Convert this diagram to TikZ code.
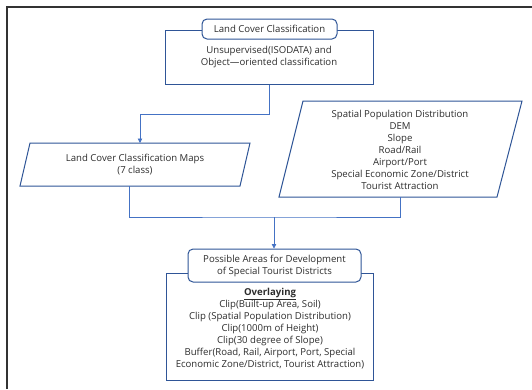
\documentclass[tikz,border=0pt]{standalone}
\usepackage{fontspec}
\setmainfont{Open Sans}
\usetikzlibrary{arrows.meta}
\definecolor{boxblue}{RGB}{47,85,151}
\definecolor{linkblue}{RGB}{68,114,196}
\definecolor{txt}{RGB}{45,45,45}
\tikzset{
  frame/.style={draw=black!80, line width=1.8pt},
  outerbox/.style={draw=boxblue, line width=1pt, fill=white, inner sep=0pt},
  titlebox/.style={draw=boxblue, line width=1pt, fill=white, rounded corners=5pt, inner sep=0pt},
  para/.style={draw=boxblue, line width=1pt},
  conn/.style={draw=linkblue, line width=0.8pt},
  arr/.style={conn, -{Triangle[width=4.5pt,length=4.5pt]}},
  label/.style={align=center, text=txt, font=\fontsize{9.6}{12}\selectfont, inner sep=0pt},
}
\begin{document}
\begin{tikzpicture}[x=1pt,y=-1pt]
\useasboundingbox (0,0) rectangle (532,389);
\fill[white] (0,0) rectangle (532,389);
% frame
\draw[frame] (7,389) -- (7,7) -- (532,7);

% top box
\node[outerbox, minimum width=208pt, minimum height=54pt] (topbox) at (269,57) {};
\node[label] (toptext) at (269,57.5) {Unsupervised(ISODATA) and\\Object---oriented classification};
\node[titlebox, minimum width=135pt, minimum height=20pt] (toptitle) at (269.5,29) {};
\node[label] at (toptitle.center) {Land Cover Classification};

% left parallelogram
\node[label, minimum width=200pt, minimum height=43pt] (lp) at (135,164.5) {Land Cover Classification Maps\\(7 class)};
\draw[para] (30,143) -- (250,143) -- (240,186) -- (20,186) -- cycle;
\coordinate (lptop) at (140,143);
\coordinate (lpbot) at (129,186);

% right parallelogram
\node[label, minimum width=200pt, minimum height=96pt] (rp) at (400,149.5) {Spatial Population Distribution\\DEM\\Slope\\Road/Rail\\Airport/Port\\Special Economic Zone/District\\Tourist Attraction};
\draw[para] (303,101) -- (522,101) -- (497,197) -- (279,197) -- cycle;
\coordinate (rpbot) at (400,197);

% bottom box
\node[outerbox, minimum width=207pt, minimum height=107pt] (botbox) at (269.5,326.5) {};
\node[label] (bottext) at (270,328.5) {\textbf{\underline{Overlaying}}\\Clip(Built-up Area, Soil)\\Clip (Spatial Population Distribution)\\Clip(1000m of Height)\\Clip(30 degree of Slope)\\Buffer(Road, Rail, Airport, Port, Special\\Economic Zone/District, Tourist Attraction)};
\node[titlebox, minimum width=173pt, minimum height=33pt] (bottitle) at (274.5,265.5) {};
\node[label] at (bottitle.center) {Possible Areas for Development\\of Special Tourist Districts};

% connectors
\coordinate (join) at (274,217);
\draw[arr] (topbox.south -| 269.5,0) |- (lptop |- 0,114) -- (lptop);
\draw[conn] (lpbot) |- (join) -| (rpbot);
\draw[arr] (join) -- (bottitle.north -| join);
\end{tikzpicture}
\end{document}
